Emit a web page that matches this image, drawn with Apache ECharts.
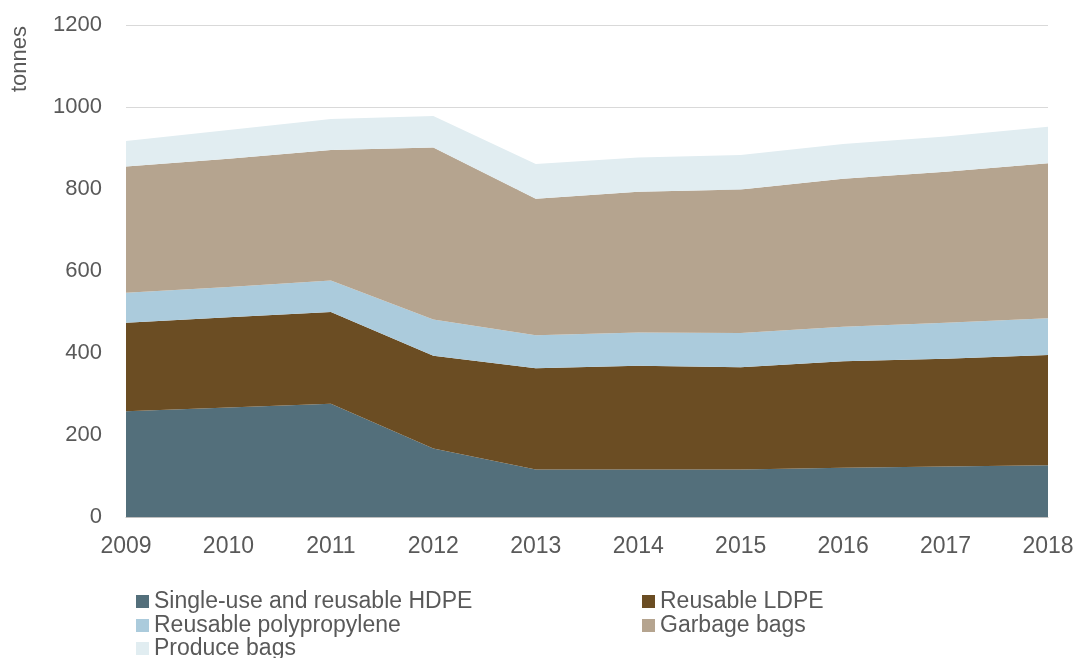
<!DOCTYPE html>
<html>
<head>
<meta charset="utf-8">
<script src="https://cdn.jsdelivr.net/npm/echarts@6/dist/echarts.min.js"></script>
<style>
  html, body { margin: 0; padding: 0; background: #fff; }
  #chart { width: 1078px; height: 658px; }
</style>
</head>
<body>
<div id="chart"></div>
<script>
// years on the x axis
const years = ['2009', '2010', '2011', '2012', '2013', '2014', '2015', '2016', '2017', '2018']
// tonnes per bag type (stacked)
const hdpe = [258, 267, 276, 167, 116, 116, 116, 120, 123, 126]
const ldpe = [216, 220, 224, 226, 247, 253, 249, 260, 263, 269]
const polypropylene = [73, 74, 77, 89, 80, 81, 84, 84, 88, 90]
const garbageBags = [308, 313, 318, 419, 333, 343, 350, 361, 368, 378]
const produceBags = [62, 70, 76, 77, 85, 84, 84, 85, 86, 89]

const seriesNames = [
  'Single-use and reusable HDPE',
  'Reusable LDPE',
  'Reusable polypropylene',
  'Garbage bags',
  'Produce bags'
]
const seriesData = [hdpe, ldpe, polypropylene, garbageBags, produceBags]
const colorArr = ['#536f7b', '#6b4d23', '#abcbdc', '#b5a48f', '#e1edf1']

const chartInstance = echarts.init(document.getElementById('chart'))
const fontFamily = '"Liberation Sans", Arial, sans-serif'
const legendText = { fontSize: 23, color: '#595959', fontFamily: fontFamily }

// one legend per entry so the two columns line up like the original
const legendPos = [
  { left: 136, top: 590 },
  { left: 642, top: 590 },
  { left: 136, top: 614 },
  { left: 642, top: 614 },
  { left: 136, top: 637 }
]
const legendArr = seriesNames.map((name, index) => {
  return {
    data: [name],
    left: legendPos[index].left,
    top: legendPos[index].top,
    padding: 0,
    icon: 'rect',
    itemWidth: 13,
    itemHeight: 13,
    itemGap: 0,
    textStyle: legendText
  }
})

const option = {
  animation: false,
  color: colorArr,
  grid: {
    left: 126,
    right: 30,
    top: 25,
    bottom: 141
  },
  legend: legendArr,
  graphic: [
    {
      type: 'text',
      left: 9,
      top: 26,
      rotation: Math.PI / 2,
      style: {
        text: 'tonnes',
        font: '22px ' + fontFamily,
        fill: '#595959'
      }
    }
  ],
  xAxis: {
    type: 'category',
    boundaryGap: false,
    data: years,
    axisLine: { lineStyle: { color: '#bfbfbf', width: 1 } },
    axisTick: { show: false },
    axisLabel: { fontSize: 23, color: '#595959', fontFamily: fontFamily, margin: 18 }
  },
  yAxis: {
    type: 'value',
    min: 0,
    max: 1200,
    interval: 200,
    axisLine: { show: false },
    axisTick: { show: false },
    splitLine: { lineStyle: { color: '#d9d9d9', width: 1 } },
    axisLabel: {
      fontSize: 22,
      color: '#595959',
      fontFamily: fontFamily,
      margin: 24,
      formatter: value => String(value)
    }
  },
  series: seriesData.map((data, index) => {
    return {
      name: seriesNames[index],
      type: 'line',
      stack: 'total',
      data: data,
      symbol: 'none',
      lineStyle: { width: 0 },
      areaStyle: { color: colorArr[index], opacity: 1 },
      itemStyle: { color: colorArr[index] }
    }
  })
}
chartInstance.setOption(option)
</script>
</body>
</html>
